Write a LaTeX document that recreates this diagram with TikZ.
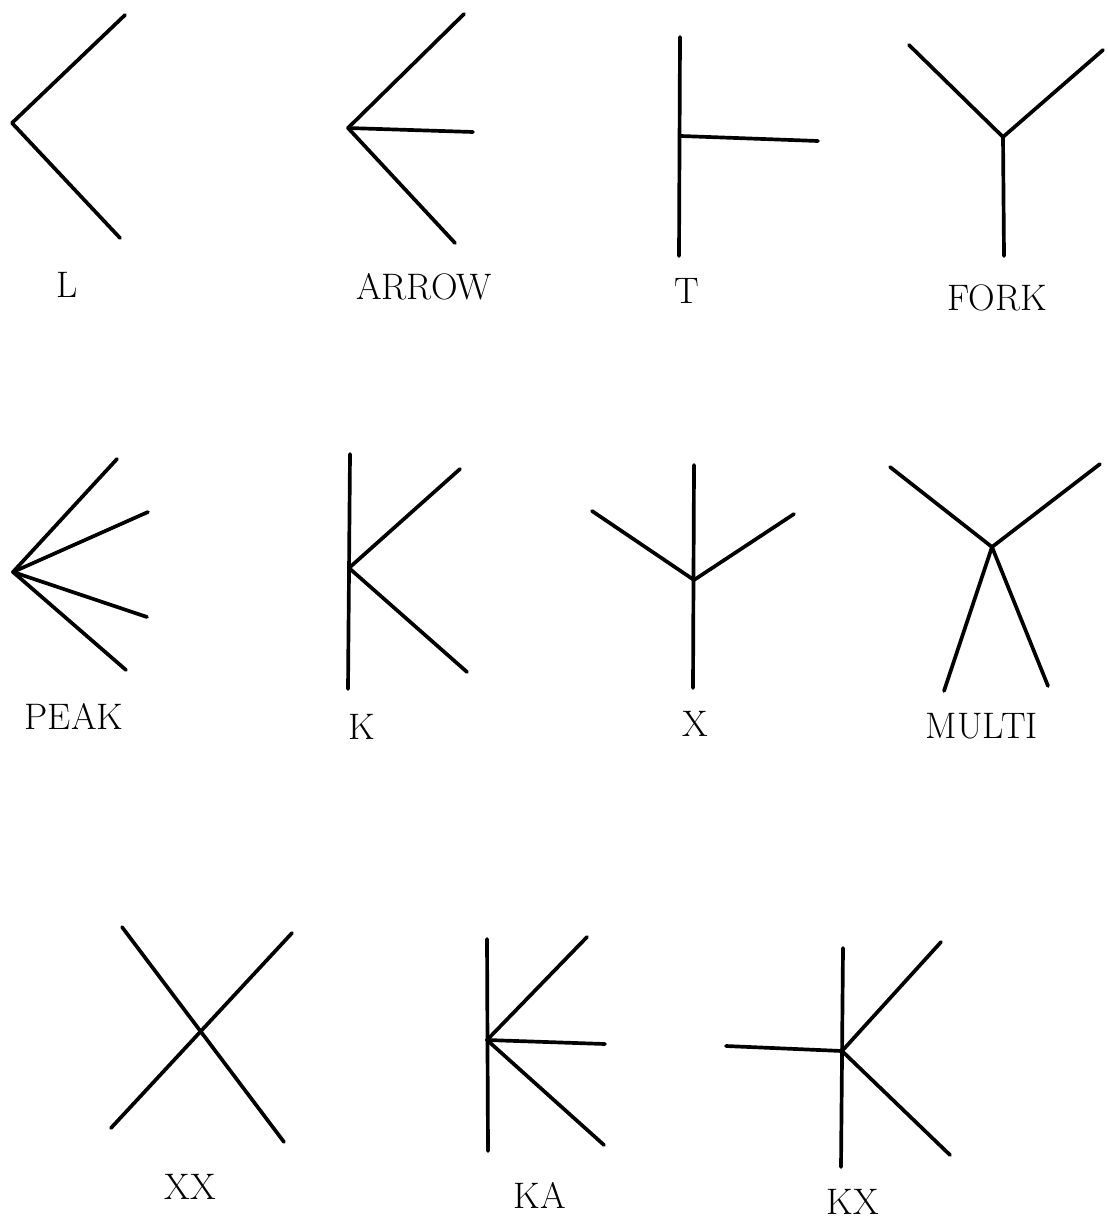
\documentclass[tikz,border=0pt]{standalone}
\usepackage{tikz}
\begin{document}
\begin{tikzpicture}[
    x=0.02cm, y=-0.02cm,
    edge/.style={line width=2.1pt, line cap=round, line join=round, draw=black},
    tag/.style={font=\fontsize{21}{25}\selectfont, text=black, inner sep=0pt}
  ]
    \useasboundingbox (0,0) rectangle (1107,1226);

    % Row 1: L, ARROW, T, FORK
    \coordinate (lc) at (12,123);
    \coordinate (lu) at (125,15);
    \coordinate (ld) at (120,238);
    \draw[edge] (lu) -- (lc) -- (ld);
    \node[tag] (ltag) at (67,285) {L};

    \coordinate (ac) at (348,128);
    \coordinate (au) at (464,14);
    \coordinate (ad) at (455,243);
    \coordinate (ar) at (473,132);
    \draw[edge] (au) -- (ac) -- (ad);
    \draw[edge] (ac) -- (ar);
    \node[tag] (atag) at (424,287) {ARROW};

    \coordinate (tu) at (680,37);
    \coordinate (td) at (679,256);
    \coordinate (tc) at (681,136);
    \coordinate (tr) at (818,141);
    \draw[edge] (tu) -- (td);
    \draw[edge] (tc) -- (tr);
    \node[tag] (ttag) at (687,291) {T};

    \coordinate (fc) at (1003,137);
    \coordinate (fl) at (909,45);
    \coordinate (fr) at (1103,50);
    \coordinate (fd) at (1004,256);
    \draw[edge] (fl) -- (fc) -- (fr);
    \draw[edge] (fc) -- (fd);
    \node[tag] (ftag) at (997,298) {FORK};

    % Row 2: PEAK, K, X, MULTI
    \coordinate (pc) at (13,572);
    \coordinate (p1) at (117,459);
    \coordinate (p2) at (148,512);
    \coordinate (p3) at (147,617);
    \coordinate (p4) at (126,670);
    \foreach \p in {p1,p2,p3,p4}
      \draw[edge] (pc) -- (\p);
    \node[tag] (ptag) at (74,716) {PEAK};

    \coordinate (ku) at (350,454);
    \coordinate (kd) at (348,689);
    \coordinate (kc) at (349,568);
    \coordinate (k1) at (460,469);
    \coordinate (k2) at (467,672);
    \draw[edge] (ku) -- (kd);
    \draw[edge] (k1) -- (kc) -- (k2);
    \node[tag] (ktag) at (362,727) {K};

    \coordinate (xc) at (694,580);
    \coordinate (xu) at (694,465);
    \coordinate (xd) at (693,688);
    \coordinate (xl) at (592,511);
    \coordinate (xr) at (794,514);
    \draw[edge] (xu) -- (xd);
    \draw[edge] (xl) -- (xc) -- (xr);
    \node[tag] (xtag) at (695,724) {X};

    \coordinate (mc) at (992,547);
    \coordinate (m1) at (890,467);
    \coordinate (m2) at (1100,464);
    \coordinate (m3) at (944,691);
    \coordinate (m4) at (1048,686);
    \foreach \m in {m1,m2,m3,m4}
      \draw[edge] (mc) -- (\m);
    \node[tag] (mtag) at (982,726) {MULTI};

    % Row 3: XX, KA, KX
    \coordinate (xxa) at (122,927);
    \coordinate (xxb) at (284,1142);
    \coordinate (xxc) at (292,933);
    \coordinate (xxd) at (111,1128);
    \draw[edge] (xxa) -- (xxb);
    \draw[edge] (xxc) -- (xxd);
    \node[tag] (xxtag) at (190,1187) {XX};

    \coordinate (kau) at (487,939);
    \coordinate (kad) at (488,1151);
    \coordinate (kac) at (487,1040);
    \coordinate (ka1) at (587,937);
    \coordinate (ka2) at (604,1145);
    \coordinate (ka3) at (605,1044);
    \draw[edge] (kau) -- (kad);
    \draw[edge] (ka1) -- (kac) -- (ka2);
    \draw[edge] (kac) -- (ka3);
    \node[tag] (katag) at (540,1195) {KA};

    \coordinate (kxu) at (843,948);
    \coordinate (kxd) at (841,1167);
    \coordinate (kxc) at (842,1051);
    \coordinate (kx1) at (941,942);
    \coordinate (kx2) at (950,1155);
    \coordinate (kx3) at (726,1046);
    \draw[edge] (kxu) -- (kxd);
    \draw[edge] (kx1) -- (kxc) -- (kx2);
    \draw[edge] (kx3) -- (kxc);
    \node[tag] (kxtag) at (853,1202) {KX};
\end{tikzpicture}
\end{document}
